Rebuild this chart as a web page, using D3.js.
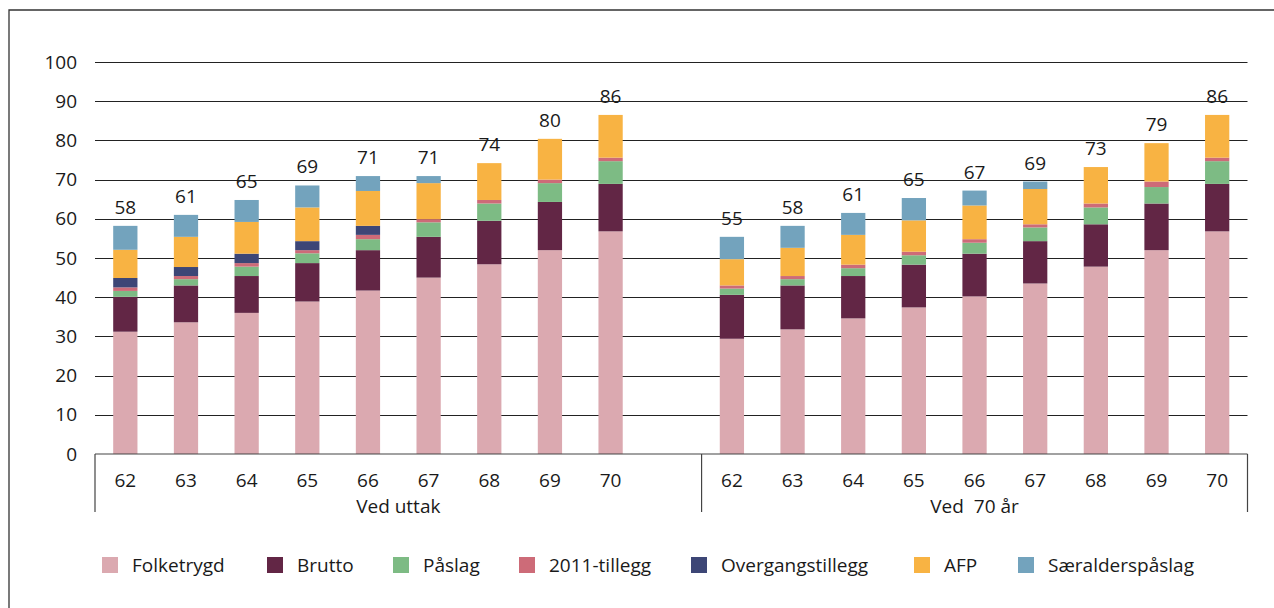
<!DOCTYPE html>
<html>
<head>
<meta charset="utf-8">
<script src="https://cdn.jsdelivr.net/npm/d3@7"></script>
<style>
  body { margin: 0; background: #fff; }
  text { font-family: "Open Sans", sans-serif; fill: #1a1a1a; }
</style>
</head>
<body>
<div id="chart"></div>
<script>
// categories
let ages = ["62", "63", "64", "65", "66", "67", "68", "69", "70"];
let groups = ["Ved uttak", "Ved  70 år"];
let seriesNames = ["Folketrygd", "Brutto", "Påslag", "2011-tillegg", "Overgangstillegg", "AFP", "Særalderspåslag"];
let colors = ["#dba9b0", "#622645", "#7dbb84", "#cd6b78", "#3d4676", "#f8b343", "#73a3bd"];

// series values: first 9 = Ved uttak, last 9 = Ved 70 år
let folketrygd = [31.2, 33.6, 36.0, 38.9, 41.7, 45.0, 48.4, 52.0, 56.8,
                  29.4, 31.8, 34.6, 37.4, 40.2, 43.5, 47.8, 52.0, 56.8];
let brutto = [8.9, 9.4, 9.4, 9.8, 10.3, 10.4, 11.1, 12.3, 12.1,
              11.2, 11.2, 10.8, 10.9, 10.9, 10.8, 10.8, 11.9, 12.1];
let paslag = [1.5, 1.6, 2.4, 2.5, 2.8, 3.7, 4.4, 4.8, 5.8,
              1.6, 1.6, 2.0, 2.4, 2.8, 3.5, 4.3, 4.2, 5.8];
let tillegg2011 = [0.9, 0.8, 0.9, 0.8, 1.1, 0.8, 0.9, 0.9, 0.9,
                   0.8, 0.8, 0.9, 0.9, 0.9, 0.8, 1.0, 1.4, 0.9];
let overgang = [2.4, 2.3, 2.4, 2.3, 2.3, 0, 0, 0, 0,
                0, 0, 0, 0, 0, 0, 0, 0, 0];
let afp = [7.2, 7.7, 8.1, 8.6, 8.9, 9.2, 9.4, 10.4, 10.9,
           6.7, 7.2, 7.6, 8.0, 8.6, 9.0, 9.3, 9.8, 10.9];
let saeralder = [6.1, 5.6, 5.6, 5.6, 3.8, 1.8, 0, 0, 0,
                 5.7, 5.6, 5.6, 5.7, 3.8, 1.9, 0, 0, 0];
let totals = [58, 61, 65, 69, 71, 71, 74, 80, 86,
              55, 58, 61, 65, 67, 69, 73, 79, 86];

let yTicks = [0, 10, 20, 30, 40, 50, 60, 70, 80, 90, 100];

let svgWidth = 1274;
let svgHeight = 608;
let fontSize = 19;

let plot = { left: 95, right: 1247.5, top: 62, bottom: 454 };

let svg = d3.select("#chart")
  .append("svg")
  .attr("width", svgWidth)
  .attr("height", svgHeight);

// outer frame (top and left edges visible)
svg.append("path")
  .attr("d", `M9,${svgHeight} V10 H${svgWidth}`)
  .attr("fill", "none")
  .attr("stroke", "#333")
  .attr("stroke-width", 1.3);

// build rows, one per bar
let seriesValues = [folketrygd, brutto, paslag, tillegg2011, overgang, afp, saeralder];
let rows = [];
groups.forEach(function(g, gi) {
  ages.forEach(function(a, ai) {
    let i = gi * ages.length + ai;
    let row = { key: gi + "-" + a, age: a, group: gi, total: totals[i] };
    seriesNames.forEach((s, si) => row[s] = seriesValues[si][i]);
    rows.push(row);
  });
});

// one empty slot between the two groups
let domain = rows.slice(0, 9).map(d => d.key).concat(["gap"], rows.slice(9).map(d => d.key));

let x = d3.scaleBand()
  .domain(domain)
  .range([plot.left, plot.right])
  .paddingInner(0.6)
  .paddingOuter(0.3);

let y = d3.scaleLinear()
  .domain([0, 100])
  .range([plot.bottom, plot.top]);

// gridlines + y labels
let yAxis = d3.axisLeft(y)
  .tickValues(yTicks)
  .tickSize(0)
  .tickPadding(18);

let yg = svg.append("g")
  .attr("transform", `translate(${plot.left},0)`)
  .call(yAxis);
yg.select(".domain").remove();
yg.selectAll("text")
  .attr("font-size", fontSize)
  .attr("font-family", "Open Sans")
  .attr("fill", "#1a1a1a");

svg.append("g")
  .selectAll("line")
  .data(yTicks.filter(t => t > 0))
  .enter()
  .append("line")
  .attr("x1", plot.left)
  .attr("x2", plot.right)
  .attr("y1", d => Math.round(y(d)) + 0.5)
  .attr("y2", d => Math.round(y(d)) + 0.5)
  .attr("stroke", "#222")
  .attr("stroke-width", 1);

// stacked bars
let stack = d3.stack().keys(seriesNames);
let stacked = stack(rows);

svg.append("g")
  .selectAll("g")
  .data(stacked)
  .enter()
  .append("g")
  .attr("fill", (d, i) => colors[i])
  .selectAll("rect")
  .data(d => d)
  .enter()
  .append("rect")
  .attr("x", d => x(d.data.key))
  .attr("width", x.bandwidth())
  .attr("y", d => y(d[1]))
  .attr("height", d => y(d[0]) - y(d[1]));

// total labels
svg.append("g")
  .selectAll("text")
  .data(rows)
  .enter()
  .append("text")
  .attr("x", d => x(d.key) + x.bandwidth() / 2)
  .attr("y", d => y(d3.sum(seriesNames, s => d[s])) - 12)
  .attr("text-anchor", "middle")
  .attr("font-size", fontSize)
  .text(d => d.total);

// category axis box
let axisY = plot.bottom;
let boxBottom = 512;
let sep = x("gap") + x.bandwidth() / 2 + x.step() / 2;

let axisG = svg.append("g")
  .attr("stroke", "#444")
  .attr("stroke-width", 1.2);
axisG.append("line")
  .attr("x1", plot.left).attr("x2", plot.right)
  .attr("y1", axisY).attr("y2", axisY);
[plot.left, sep, plot.right].forEach(function(xx) {
  axisG.append("line")
    .attr("x1", xx).attr("x2", xx)
    .attr("y1", axisY).attr("y2", boxBottom);
});

svg.append("g")
  .selectAll("text")
  .data(rows)
  .enter()
  .append("text")
  .attr("x", d => x(d.key) + x.bandwidth() / 2)
  .attr("y", 487)
  .attr("text-anchor", "middle")
  .attr("font-size", fontSize)
  .text(d => d.age);

let groupCenters = [(plot.left + sep) / 2, (sep + plot.right) / 2];
svg.append("g")
  .selectAll("text")
  .data(groups)
  .enter()
  .append("text")
  .attr("x", (d, i) => groupCenters[i])
  .attr("y", 513)
  .attr("text-anchor", "middle")
  .attr("font-size", fontSize)
  .style("white-space", "pre")
  .text(d => d);

// legend
let legendX = [102, 267, 393, 519, 691, 914, 1018];
let legend = svg.append("g")
  .selectAll("g")
  .data(seriesNames)
  .enter()
  .append("g")
  .attr("transform", (d, i) => `translate(${legendX[i]}, 557)`);

legend.append("rect")
  .attr("width", 16)
  .attr("height", 16)
  .attr("fill", (d, i) => colors[i]);

legend.append("text")
  .attr("x", 30)
  .attr("y", 15)
  .attr("font-size", fontSize)
  .text(d => d);
</script>
</body>
</html>
